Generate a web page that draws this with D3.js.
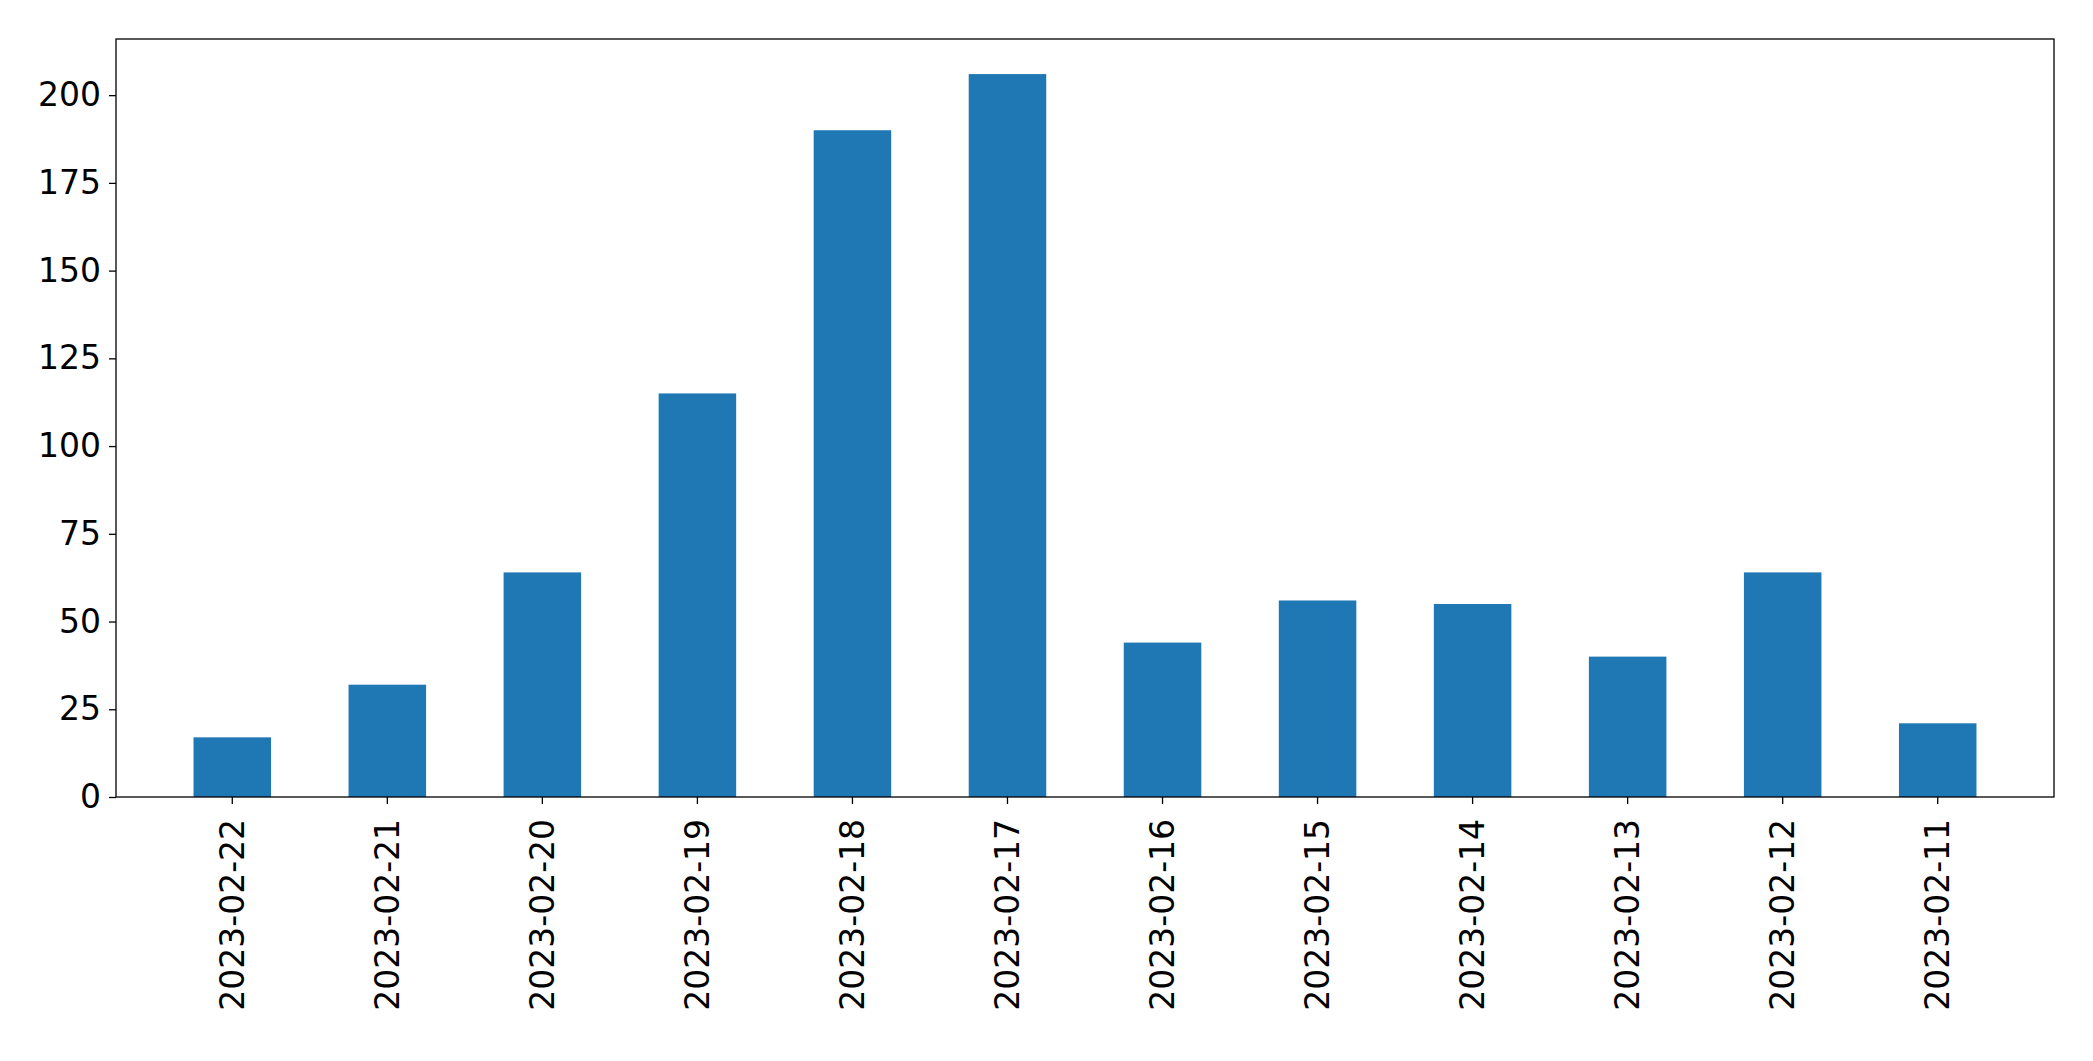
<!DOCTYPE html>
<html><head><meta charset="utf-8">
<script src="https://cdn.jsdelivr.net/npm/d3@7"></script>
<style>body{margin:0;background:#fff}text{font-family:"DejaVu Sans";}</style>
</head><body>
<script>
const dates = ["2023-02-22","2023-02-21","2023-02-20","2023-02-19","2023-02-18","2023-02-17","2023-02-16","2023-02-15","2023-02-14","2023-02-13","2023-02-12","2023-02-11"];
const counts = [17, 32, 64, 115, 190, 206, 44, 56, 55, 40, 64, 21];
const yTicks = [0, 25, 50, 75, 100, 125, 150, 175, 200];

const W = 2093, H = 1061;
const m = {left: 116, right: 2054, top: 39, bottom: 797};
const svg = d3.select("body").append("svg").attr("width", W).attr("height", H);

const x = d3.scaleBand().domain(dates).range([m.left, m.right]).padding(0.5);
const y = d3.scaleLinear().domain([0, 216]).range([m.bottom, m.top]);

svg.selectAll("rect.bar").data(counts).join("rect")
  .attr("x", (d, i) => x(dates[i]))
  .attr("width", x.bandwidth())
  .attr("y", d => y(d))
  .attr("height", d => y(0) - y(d))
  .attr("fill", "#1f77b4");

const xa = svg.append("g").attr("transform", `translate(0,${m.bottom})`)
  .call(d3.axisBottom(x).tickSize(7).tickPadding(8));
xa.selectAll("text").attr("transform", "rotate(-90)")
  .attr("text-anchor", "end").attr("dx", "-0.3em").attr("dy", "0.35em")
  .attr("x", -12).attr("y", 0);
const ya = svg.append("g").attr("transform", `translate(${m.left},0)`)
  .call(d3.axisLeft(y).tickValues(yTicks).tickSize(7).tickPadding(8));
[xa, ya].forEach(a => {
  a.selectAll("text").attr("font-size", 33).attr("fill", "#000").attr("font-family", "DejaVu Sans");
  a.select(".domain").remove();
  a.selectAll("line").attr("stroke", "#000").attr("stroke-width", 1.3);
});
svg.append("rect").attr("x", m.left).attr("y", m.top)
  .attr("width", m.right - m.left).attr("height", m.bottom - m.top)
  .attr("fill", "none").attr("stroke", "#000").attr("stroke-width", 1.3);
</script>
</body></html>
